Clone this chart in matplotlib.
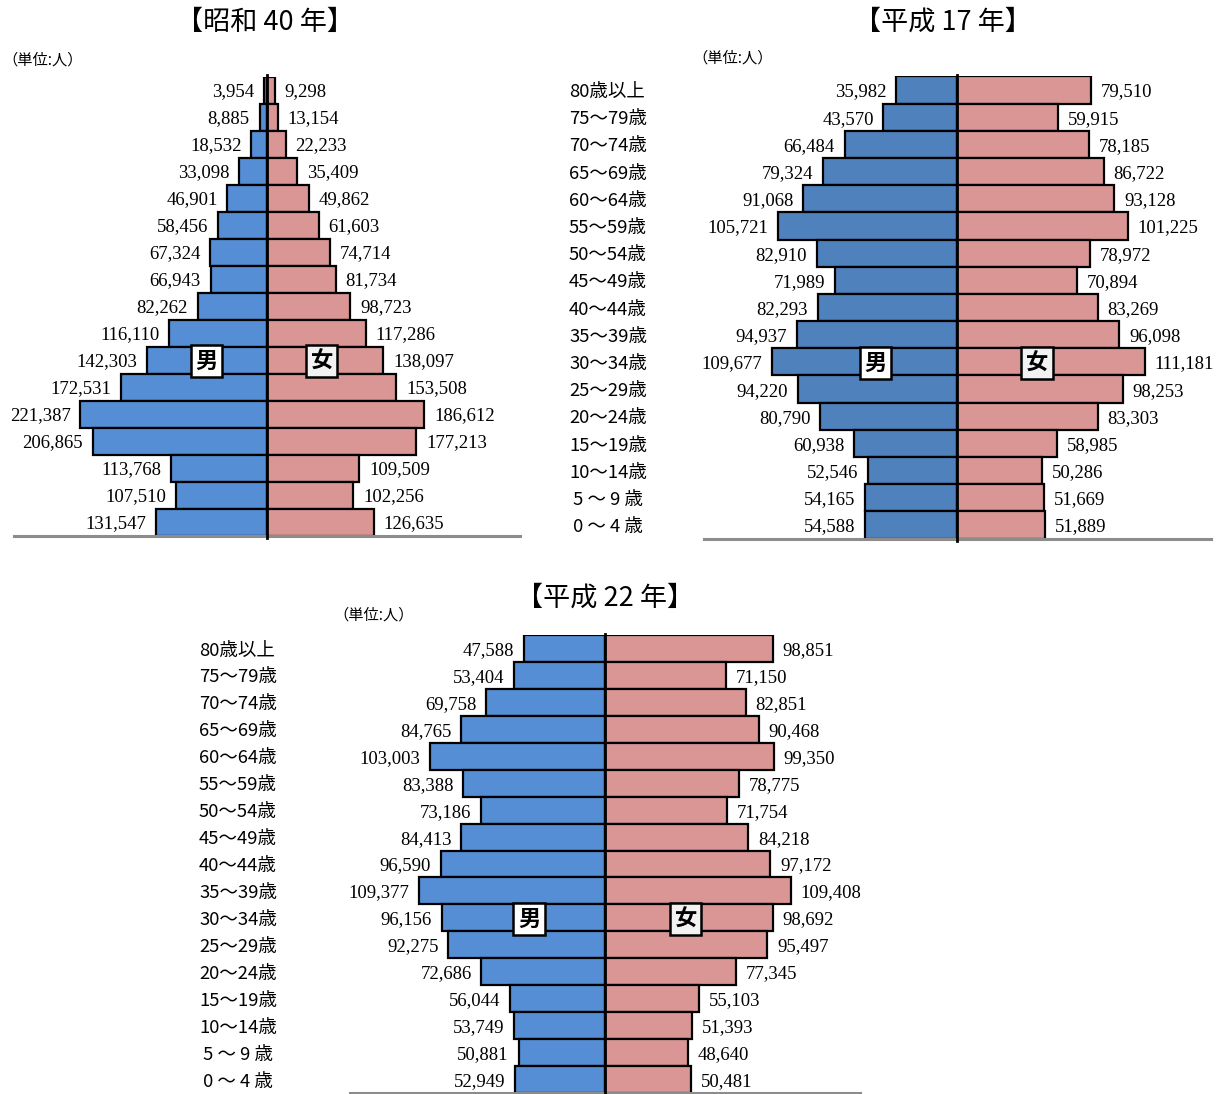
import matplotlib.pyplot as plt
from matplotlib.transforms import blended_transform_factory

plt.rcParams['font.family'] = ['Noto Sans CJK JP', 'DejaVu Sans']

# Age groups, oldest first (top of the pyramid)
ages = ["80歳以上", "75～79歳", "70～74歳", "65～69歳", "60～64歳", "55～59歳",
        "50～54歳", "45～49歳", "40～44歳", "35～39歳", "30～34歳", "25～29歳",
        "20～24歳", "15～19歳", "10～14歳", " 5 ～ 9 歳", " 0 ～ 4 歳"]

# 昭和40年
s40_male = [3954, 8885, 18532, 33098, 46901, 58456, 67324, 66943, 82262,
            116110, 142303, 172531, 221387, 206865, 113768, 107510, 131547]
s40_female = [9298, 13154, 22233, 35409, 49862, 61603, 74714, 81734, 98723,
              117286, 138097, 153508, 186612, 177213, 109509, 102256, 126635]

# 平成17年
h17_male = [35982, 43570, 66484, 79324, 91068, 105721, 82910, 71989, 82293,
            94937, 109677, 94220, 80790, 60938, 52546, 54165, 54588]
h17_female = [79510, 59915, 78185, 86722, 93128, 101225, 78972, 70894, 83269,
              96098, 111181, 98253, 83303, 58985, 50286, 51669, 51889]

# 平成22年
h22_male = [47588, 53404, 69758, 84765, 103003, 83388, 73186, 84413, 96590,
            109377, 96156, 92275, 72686, 56044, 53749, 50881, 52949]
h22_female = [98851, 71150, 82851, 90468, 99350, 78775, 71754, 84218, 97172,
              109408, 98692, 95497, 77345, 55103, 51393, 48640, 50481]

W, H = 1226, 1094
PINK = '#D99694'

fig = plt.figure(figsize=(W / 100, H / 100), dpi=100)


def px_axes(x0, x1, y0, y1):
    # axes from pixel box (top-left origin)
    return fig.add_axes([x0 / W, 1 - y1 / H, (x1 - x0) / W, (y1 - y0) / H])


def pyramid(ax, male, female, lim, blue, box_x):
    n = len(male)
    rows = list(range(n))
    ax.barh(rows, [-m for m in male], height=1.0, color=blue,
            edgecolor='black', linewidth=1.6)
    ax.barh(rows, female, height=1.0, color=PINK,
            edgecolor='black', linewidth=1.6)
    ax.set_xlim(-lim, lim)
    ax.set_ylim(n - 0.5, -0.5)
    ax.axis('off')

    # baseline and centre line
    ax.plot([-lim, lim], [n - 0.5, n - 0.5], color='#8c8c8c', lw=2.2,
            clip_on=False, zorder=1)
    ax.plot([0, 0], [-0.55, n - 0.42], color='black', lw=2.0,
            clip_on=False, zorder=3)

    for i in rows:
        ax.annotate(f"{male[i]:,}", (-male[i], i), xytext=(-7, -1.5),
                    textcoords='offset points', ha='right', va='center',
                    fontsize=13.5, family='Liberation Serif')
        ax.annotate(f"{female[i]:,}", (female[i], i), xytext=(7, -1.5),
                    textcoords='offset points', ha='left', va='center',
                    fontsize=13.5, family='Liberation Serif')

    ax.text(box_x[0], 10.05, "男", ha='center', va='center', fontsize=16,
            fontweight='bold', zorder=5,
            bbox=dict(boxstyle='square,pad=0.2', facecolor='white',
                      edgecolor='black', linewidth=1.8))
    ax.text(box_x[1], 10.05, "女", ha='center', va='center', fontsize=16,
            fontweight='bold', zorder=5,
            bbox=dict(boxstyle='square,pad=0.2', facecolor='#f2f2f2',
                      edgecolor='black', linewidth=1.8))


def age_labels(ax, x_px):
    tr = blended_transform_factory(fig.transFigure, ax.transData)
    for i, a in enumerate(ages):
        ax.annotate(a, (x_px / W, i), xycoords=tr, xytext=(0, -1.5),
                    textcoords='offset points', ha='left', va='center',
                    fontsize=13.3, annotation_clip=False)


ax1 = px_axes(14, 520, 76.5, 535.5)
pyramid(ax1, s40_male, s40_female, 300000, '#558ED5', (-72000, 65000))

ax2 = px_axes(703.5, 1210.5, 76.4, 538.6)
pyramid(ax2, h17_male, h17_female, 150000, '#4F81BD', (-48000, 47300))
age_labels(ax2, 569)

ax3 = px_axes(350, 860, 635, 1093)
pyramid(ax3, h22_male, h22_female, 150000, '#558ED5', (-44700, 47600))
age_labels(ax3, 199)

# titles and unit notes
fig.text(265 / W, 1 - 22 / H, "【昭和 40 年】", ha='center', va='center', fontsize=19.5)
fig.text(943 / W, 1 - 22 / H, "【平成 17 年】", ha='center', va='center', fontsize=19.5)
fig.text(605 / W, 1 - 598 / H, "【平成 22 年】", ha='center', va='center', fontsize=19.5)

fig.text(2 / W, 1 - 60 / H, "（単位:人）", ha='left', va='center', fontsize=11)
fig.text(692 / W, 1 - 58 / H, "（単位:人）", ha='left', va='center', fontsize=11)
fig.text(333 / W, 1 - 615 / H, "（単位:人）", ha='left', va='center', fontsize=11)

fig.savefig('out.png', dpi=100)
